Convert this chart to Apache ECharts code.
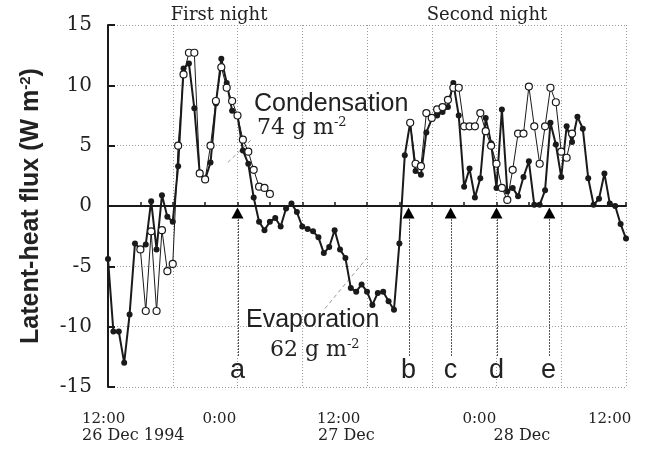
<!DOCTYPE html>
<html><head><meta charset="utf-8">
<script src="https://cdn.jsdelivr.net/npm/echarts@6/dist/echarts.min.js"></script>
<style>html,body{margin:0;padding:0;background:#fff}#c{width:663px;height:451px}</style>
</head><body><div id="c"></div>
<script>
// ---- data (hours since 12:00 26 Dec 1994, 30-min samples) ----
const sampleStartHour = 0;
const sampleStepHour = 0.5;
const filledFlux = [
  -4.4,-10.4,-10.4,-13.0,-9.0,-3.1,-3.6,-3.2,0.4,-3.6,
  0.9,-0.9,-1.3,3.3,11.4,11.8,8.1,2.7,2.2,3.6,
  8.5,12.2,10.2,7.9,7.5,4.6,3.5,0.7,-1.3,-2.0,
  -1.3,-1.0,-1.7,-0.2,0.2,-0.5,-1.7,-1.9,-2.1,-2.6,
  -3.9,-3.4,-2.0,-3.6,-4.3,-6.8,-7.1,-6.5,-7.1,-8.2,
  -7.2,-7.1,-7.9,-8.6,-3.1,4.2,6.9,2.9,2.6,6.1,
  7.2,7.5,7.8,8.2,10.2,7.5,1.6,3.1,0.7,2.3,
  7.3,5.2,1.5,8.0,1.2,1.5,0.8,2.4,3.7,0.1,
  0.1,1.3,6.9,5.1,2.4,6.6,5.3,7.4,6.4,2.3,
  0.1,0.6,2.7,0.2,0.0,-1.5,-2.7
];
const openNight1Start = 3;
const openNight1 = [
  -3.6,-8.7,-2.1,-8.7,-2.0,-5.4,-4.8,5.0,10.9,12.7,
  12.7,2.7,2.2,5.0,8.7,11.5,9.8,8.7,7.5,5.5,
  4.5,3.0,1.6,1.5,1.0
];
const openNight2Start = 28;
const openNight2 = [
  6.9,3.5,3.3,7.7,7.3,8.0,8.2,8.8,9.8,9.8,
  6.6,6.6,6.6,7.7,6.2,5.0,3.5,1.5,0.5,3.0,
  6.0,6.0,9.9,6.6,3.5,6.6,9.8,8.6,4.5,4.0,
  6.0
];
const eventHours = [12, 27.85, 31.75, 36, 40.9];
const eventLetters = ['a', 'b', 'c', 'd', 'e'];
const xTickHours = [0, 12, 24, 36, 48];
const xTickTimes = ['12:00', '0:00', '12:00', '0:00', '12:00'];
const dateLabelHours = [0, 24, 36];
const dateLabels = ['26 Dec 1994', '27 Dec', '28 Dec'];
const yTicks = [-15, -10, -5, 0, 5, 10, 15];
const leaderLines = [[[11.1, 3.6], [13.4, 5.6]], [[20.1, -8.5], [24.0, -4.3]]];

const toPairs = (start, arr) => arr.map((v, i) => [start + i * sampleStepHour, v]);

const chart = echarts.init(document.getElementById('c'), null, {renderer: 'canvas'});
const ink = '#1a1a1a';
const gridDots = {type: [1, 2], color: '#9a9a9a', width: 1};

chart.setOption({
  animation: false,
  backgroundColor: '#fff',
  grid: {left: 108, right: 37, top: 25, bottom: 64},
  xAxis: {
    type: 'value', min: 0, max: 48, interval: 6,
    axisLine: {onZero: true, lineStyle: {color: ink, width: 2}},
    axisTick: {inside: true, length: 4, lineStyle: {color: ink, width: 1.5}},
    minorTick: {show: true, splitNumber: 2, length: 4, lineStyle: {color: ink, width: 1.5}},
    axisLabel: {show: false},
    splitLine: {show: true, lineStyle: gridDots}
  },
  yAxis: {
    type: 'value', min: yTicks[0], max: yTicks[yTicks.length - 1], interval: 5,
    axisLine: {show: true, lineStyle: {color: ink, width: 2}},
    axisTick: {show: true, inside: true, length: 7, lineStyle: {color: ink, width: 2}},
    axisLabel: {fontFamily: 'DejaVu Serif', fontSize: 20, color: '#222', margin: 16},
    splitLine: {show: true, lineStyle: gridDots},
    name: '{a|Latent-heat flux (W m}{s|-2}{a|)}',
    nameLocation: 'middle', nameRotate: 90, nameGap: 63,
    nameTextStyle: {
      rich: {
        a: {fontFamily: 'Liberation Sans', fontWeight: 'bold', fontSize: 25, color: '#222'},
        s: {fontFamily: 'Liberation Sans', fontWeight: 'bold', fontSize: 15, color: '#222', padding: [0, 0, 12, 0]}
      }
    }
  },
  series: [
    {type: 'line', data: toPairs(sampleStartHour, filledFlux), symbol: 'circle', symbolSize: 6,
     itemStyle: {color: ink}, lineStyle: {color: ink, width: 2}, z: 3},
    {type: 'line', data: toPairs(openNight1Start, openNight1), symbol: 'circle', symbolSize: 7,
     itemStyle: {color: '#fff', borderColor: ink, borderWidth: 1.2}, lineStyle: {color: ink, width: 1}, z: 4},
    {type: 'line', data: toPairs(openNight2Start, openNight2), symbol: 'circle', symbolSize: 7,
     itemStyle: {color: '#fff', borderColor: ink, borderWidth: 1.2}, lineStyle: {color: ink, width: 1}, z: 4},
    {type: 'scatter', data: eventHours.map(h => [h, 0]), symbol: 'triangle', symbolSize: [12, 11],
     symbolOffset: [0, 7], itemStyle: {color: '#000', opacity: 1}, z: 5}
  ]
});

const px = (h, v) => chart.convertToPixel({gridIndex: 0}, [h, v]);
const g = [];
const serif = 'DejaVu Serif';
const sans = 'Liberation Sans';
// event vertical lines + letters
eventHours.forEach((h, i) => {
  const x = Math.round(px(h, 0)[0]) + 0.5;
  g.push({type: 'line', shape: {x1: x, y1: 219, x2: x, y2: 356}, style: {stroke: '#555', lineWidth: 1, lineDash: [2, 1]}, silent: true});
  g.push({type: 'text', x: x - 1, y: 371, style: {text: eventLetters[i], font: '27px ' + sans, fill: '#222', align: 'center', verticalAlign: 'middle'}});
});
// leader lines
leaderLines.forEach(seg => {
  const a = px(seg[0][0], seg[0][1]), b = px(seg[1][0], seg[1][1]);
  g.push({type: 'line', shape: {x1: a[0], y1: a[1], x2: b[0], y2: b[1]}, style: {stroke: '#999', lineWidth: 1, lineDash: [4, 3]}, silent: true});
});
// x tick labels
const timeOffsets = [-26, -35, -50, -34, -38];
xTickHours.forEach((h, i) => {
  g.push({type: 'text', x: px(h, 0)[0] + timeOffsets[i], y: 419, style: {text: xTickTimes[i], font: '15px ' + serif, fill: '#222', verticalAlign: 'middle'}});
});
const dateOffsets = [-26, -49, -3];
dateLabelHours.forEach((h, i) => {
  g.push({type: 'text', x: px(h, 0)[0] + dateOffsets[i], y: 436, style: {text: dateLabels[i], font: '16px ' + serif, fill: '#222', verticalAlign: 'middle'}});
});
// annotations
g.push({type: 'text', x: 219, y: 15, style: {text: 'First night', font: '18px ' + serif, fill: '#222', align: 'center', verticalAlign: 'middle'}});
g.push({type: 'text', x: 487, y: 15, style: {text: 'Second night', font: '18px ' + serif, fill: '#222', align: 'center', verticalAlign: 'middle'}});
g.push({type: 'text', x: 254, y: 104, style: {text: 'Condensation', font: '25px ' + sans, fill: '#222', verticalAlign: 'middle'}});
g.push({type: 'text', x: 257, y: 128, style: {text: '{n|74 g m}{s|-2}', verticalAlign: 'middle', rich: {n: {font: '22px ' + serif, fill: '#222'}, s: {font: '13px ' + serif, fill: '#222', padding: [0, 0, 10, 0]}}}});
g.push({type: 'text', x: 246, y: 320, style: {text: 'Evaporation', font: '25px ' + sans, fill: '#222', verticalAlign: 'middle'}});
g.push({type: 'text', x: 270, y: 350, style: {text: '{n|62 g m}{s|-2}', verticalAlign: 'middle', rich: {n: {font: '22px ' + serif, fill: '#222'}, s: {font: '13px ' + serif, fill: '#222', padding: [0, 0, 10, 0]}}}});
chart.setOption({graphic: g});
</script></body></html>
